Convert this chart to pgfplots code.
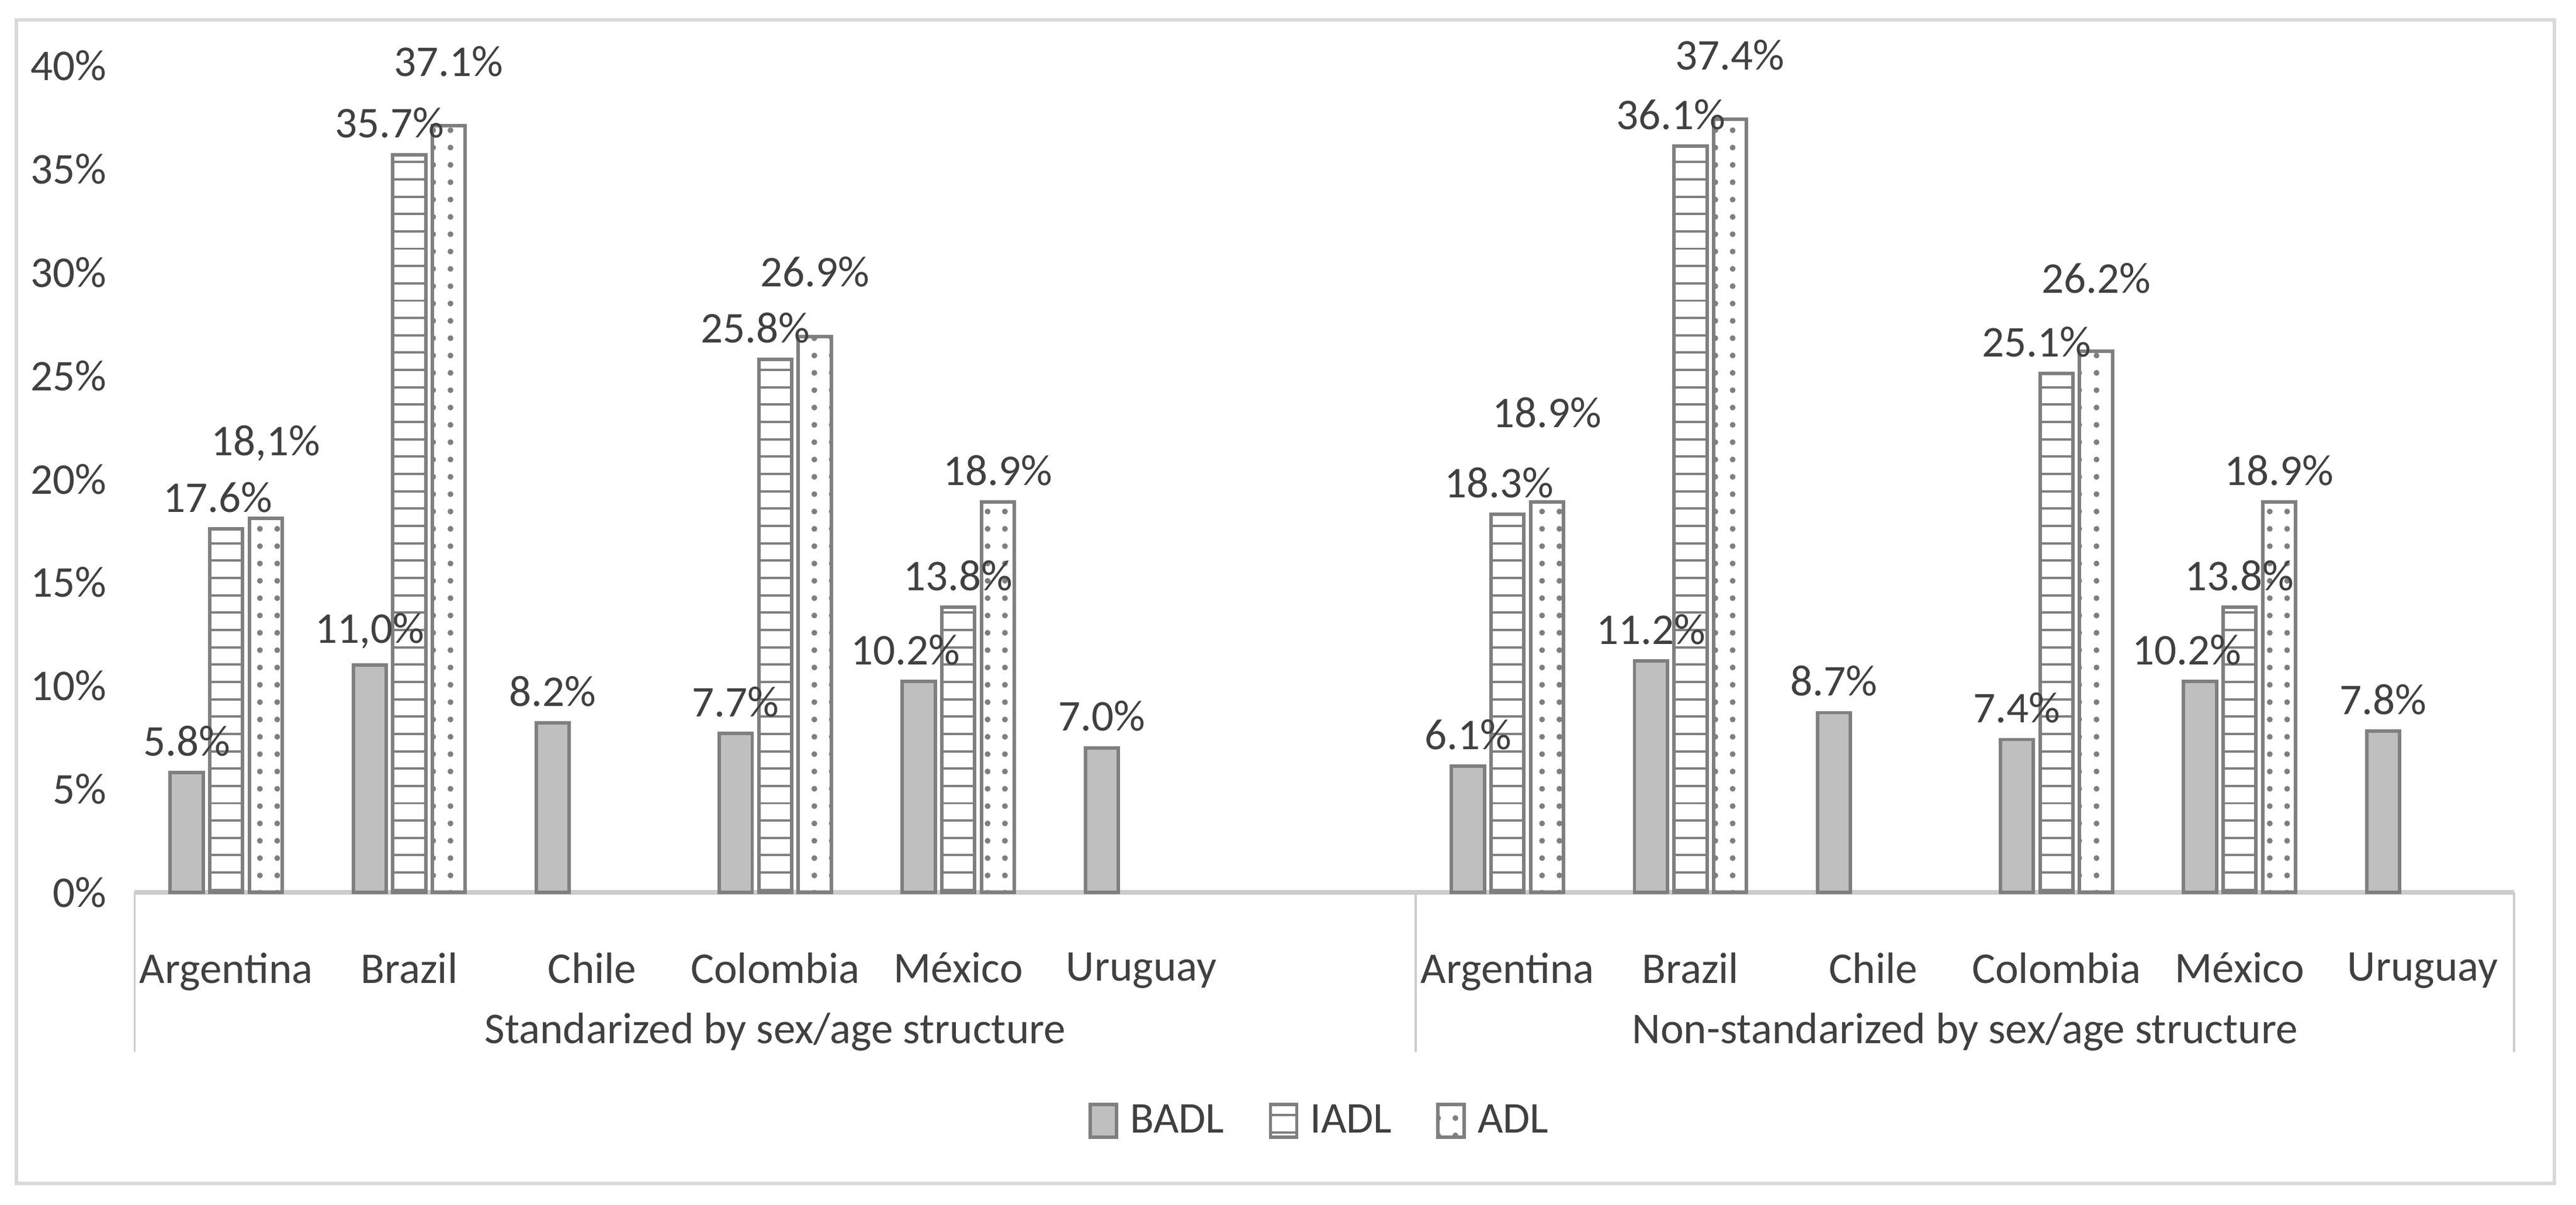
\documentclass[border=0pt]{standalone}
\usepackage{pgfplots}
\pgfplotsset{compat=1.18}
\usepackage{pgfplotstable}
\usetikzlibrary{patterns}
\usepackage{fontspec}
\setmainfont{Carlito}
\definecolor{txt}{HTML}{404040}
\definecolor{edge}{HTML}{7F7F7F}
\pgfplotstableread{
x y lab dx dy
0 5.8 5.8 0 0
1 11.0 11,0 0 0
2 8.2 8.2 0 0
3 7.7 7.7 0 0
4 10.2 10.2 -0.8 0
5 7.0 7.0 0 0
7 6.1 6.1 0 0
8 11.2 11.2 0 0
9 8.7 8.7 0 0
10 7.4 7.4 0 0
11 10.2 10.2 -0.8 0
12 7.8 7.8 0 0
}\badl
\pgfplotstableread{
x y lab dx dy
0 17.6 17.6 -0.5 0
1 35.7 35.7 -1.2 0
3 25.8 25.8 -1.2 0
4 13.8 13.8 0 0
7 18.3 18.3 -0.5 0
8 36.1 36.1 -1.2 0
10 25.1 25.1 -1.2 0
11 13.8 13.8 0 0
}\iadl
\pgfplotstableread{
x y lab dx dy
0 18.1 18,1 0 2.5
1 37.1 37.1 0 2.0
3 26.9 26.9 0 2.0
4 18.9 18.9 0 0
7 18.9 18.9 0 3.5
8 37.4 37.4 0 2.0
10 26.2 26.2 0 2.5
11 18.9 18.9 0 0
}\adl
\begin{document}
\fontsize{7.6}{9}\selectfont
\begin{tikzpicture}
\begin{axis}[
  scale only axis, width=144.8mm, height=50.3mm,
  xmin=-0.5, xmax=12.5, ymin=0, ymax=40,
  clip=false,
  axis x line=bottom, axis y line=left,
  x axis line style={-, draw=gray!40, line width=0.8pt},
  y axis line style={draw=none},
  tick style={draw=none},
  ytick={0,5,...,40},
  yticklabel={\pgfmathprintnumber{\tick}\%},
  /pgf/number format/assume math mode=true,
  xtick={0,1,2,3,4,5,7,8,9,10,11,12},
  xticklabels={Argentina,Brazil,Chile,Colombia,México,Uruguay,Argentina,Brazil,Chile,Colombia,México,Uruguay},
  xticklabel style={yshift=-1.2mm},
  ticklabel style={font=\fontsize{7.6}{9}\selectfont, text=txt},
  ybar, bar width=0.18,
  point meta=explicit symbolic,
  nodes near coords={\pgfplotspointmeta\%},
  every node near coord/.append style={font=\fontsize{7.6}{9}\selectfont, text=txt, xshift=\ddx mm, yshift=\ddy mm},
  visualization depends on={\thisrow{dx} \as \ddx},
  visualization depends on={\thisrow{dy} \as \ddy},
  legend style={at={(0.5,-0.278)}, anchor=center, draw=none, legend columns=3,
    font=\fontsize{7.6}{9}\selectfont, text=txt,
    /tikz/every even column/.append style={column sep=2mm}},
  legend image code/.code={\draw[#1] (0cm,-0.9mm) rectangle (1.6mm,1.1mm);},
]
\addplot[bar shift=-0.216, fill=gray!50, draw=edge, line width=0.6pt] table[x=x,y=y,meta=lab] {\badl};
\addlegendentry{BADL}
\addplot[bar shift=0, pattern=horizontal lines, pattern color=edge, draw=edge, line width=0.6pt] table[x=x,y=y,meta=lab] {\iadl};
\addlegendentry{IADL}
\addplot[bar shift=0.216, pattern=dots, pattern color=edge, draw=edge, line width=0.6pt] table[x=x,y=y,meta=lab] {\adl};
\addlegendentry{ADL}
\draw[gray!40] (axis cs:-0.5,0) -- ([yshift=-9.7mm]axis cs:-0.5,0);
\draw[gray!40] (axis cs:6.5,0) -- ([yshift=-9.7mm]axis cs:6.5,0);
\draw[gray!40] (axis cs:12.5,0) -- ([yshift=-9.7mm]axis cs:12.5,0);
\node[text=txt] at ([yshift=-8.5mm]axis cs:3,0) {Standarized by sex/age structure};
\node[text=txt] at ([yshift=-8.5mm]axis cs:9.5,0) {Non-standarized by sex/age structure};
\draw[gray!30, line width=0.6pt] (rel axis cs:-0.0497,1.0557) rectangle (rel axis cs:1.017,-0.352);
\path (rel axis cs:-0.0566,1.0795) rectangle (rel axis cs:1.026,-0.3777);
\end{axis}
\end{tikzpicture}
\end{document}
